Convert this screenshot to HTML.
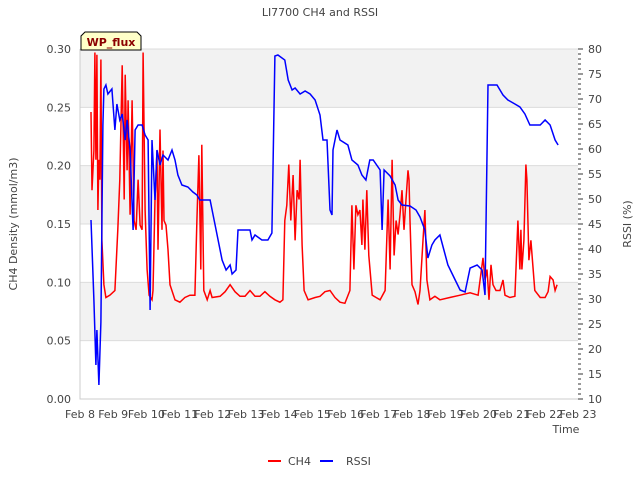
<!DOCTYPE html>
<html><head><meta charset="utf-8"><style>
body{margin:0;background:#fff;font-family:"Liberation Sans","DejaVu Sans",sans-serif}
svg text{font-family:"DejaVu Sans","Liberation Sans",sans-serif;font-size:11px;fill:#444}
</style></head><body>
<svg id="c" width="640" height="480" viewBox="0 0 640 480">
<text x="320" y="16" text-anchor="middle" font-size="13">LI7700 CH4 and RSSI</text>
<g id="bands"></g><g id="grid"></g><g id="axes"></g>
<g id="series"></g>
<g>
<path d="M81,50 L81,36 L85,32 L137,32 L141,36 L141,50 Z" fill="#ffffc8" stroke="#000" stroke-width="1"/>
<text x="111" y="46" text-anchor="middle" font-weight="bold" style="fill:#8b0000;font-size:11px">WP_flux</text>
</g>
<text transform="translate(17,224) rotate(-90)" text-anchor="middle">CH4 Density (mmol/m3)</text>
<text transform="translate(631,224) rotate(-90)" text-anchor="middle">RSSI (%)</text>
<text x="566" y="433" text-anchor="middle">Time</text>
<g><line x1="268" y1="461" x2="281" y2="461" stroke="#f00" stroke-width="2"/><text x="288" y="465">CH4</text></g>
<g><line x1="320" y1="461" x2="333" y2="461" stroke="#00f" stroke-width="2"/><text x="346" y="465">RSSI</text></g>
</svg>
<script>
const xTickLabels=["Feb 8","Feb 9","Feb 10","Feb 11","Feb 12","Feb 13","Feb 14","Feb 15","Feb 16","Feb 17","Feb 18","Feb 19","Feb 20","Feb 21","Feb 22","Feb 23"];
const ch4Ticks=[0,0.05,0.1,0.15,0.2,0.25,0.3];
const rssiTicks=[10,15,20,25,30,35,40,45,50,55,60,65,70,75,80];
const ch4Days=[0.33,0.36,0.42,0.45,0.48,0.51,0.54,0.57,0.60,0.63,0.66,0.72,0.78,0.90,1.05,1.14,1.20,1.27,1.33,1.36,1.42,1.45,1.51,1.57,1.63,1.69,1.75,1.81,1.87,1.90,1.96,2.02,2.08,2.17,2.20,2.26,2.32,2.35,2.41,2.47,2.50,2.53,2.59,2.65,2.71,2.86,3.01,3.16,3.31,3.46,3.52,3.58,3.64,3.67,3.73,3.83,3.92,3.98,4.22,4.37,4.52,4.67,4.82,4.97,5.12,5.27,5.42,5.57,5.72,5.87,6.02,6.11,6.17,6.23,6.29,6.35,6.42,6.48,6.54,6.60,6.63,6.69,6.75,6.87,7.08,7.23,7.38,7.53,7.68,7.83,7.98,8.13,8.19,8.25,8.31,8.37,8.43,8.49,8.52,8.58,8.64,8.70,8.80,8.92,9.04,9.19,9.28,9.34,9.40,9.46,9.52,9.58,9.64,9.70,9.76,9.82,9.88,9.91,9.94,10.00,10.09,10.18,10.24,10.33,10.39,10.45,10.54,10.69,10.84,11.14,11.45,11.75,11.99,12.14,12.20,12.26,12.32,12.38,12.44,12.53,12.65,12.74,12.80,12.95,13.10,13.19,13.25,13.28,13.31,13.37,13.43,13.46,13.52,13.58,13.64,13.70,13.86,14.01,14.10,14.16,14.25,14.31,14.37];
const ch4Values=[0.246,0.179,0.213,0.297,0.205,0.295,0.162,0.205,0.188,0.291,0.136,0.098,0.087,0.089,0.093,0.145,0.188,0.286,0.171,0.278,0.196,0.256,0.158,0.256,0.153,0.145,0.188,0.149,0.145,0.297,0.162,0.111,0.089,0.085,0.093,0.171,0.213,0.128,0.231,0.145,0.213,0.153,0.149,0.128,0.098,0.085,0.083,0.087,0.089,0.089,0.153,0.209,0.111,0.218,0.093,0.085,0.093,0.087,0.088,0.092,0.098,0.092,0.088,0.088,0.093,0.088,0.088,0.092,0.088,0.085,0.083,0.085,0.153,0.166,0.201,0.153,0.192,0.136,0.179,0.171,0.205,0.132,0.093,0.085,0.087,0.088,0.092,0.093,0.087,0.083,0.082,0.093,0.166,0.111,0.166,0.158,0.162,0.132,0.171,0.128,0.179,0.123,0.089,0.087,0.085,0.093,0.171,0.111,0.205,0.123,0.153,0.141,0.158,0.179,0.145,0.171,0.196,0.188,0.153,0.098,0.092,0.081,0.093,0.136,0.162,0.102,0.085,0.088,0.085,0.087,0.089,0.091,0.089,0.121,0.102,0.111,0.085,0.115,0.098,0.093,0.093,0.102,0.089,0.087,0.088,0.153,0.111,0.145,0.111,0.136,0.201,0.188,0.119,0.136,0.115,0.093,0.087,0.087,0.092,0.105,0.102,0.093,0.098];
const rssiDays=[0.33,0.42,0.48,0.51,0.57,0.63,0.69,0.72,0.78,0.84,0.96,1.05,1.11,1.20,1.27,1.36,1.42,1.51,1.60,1.66,1.75,1.87,1.96,2.05,2.11,2.17,2.26,2.32,2.41,2.50,2.65,2.77,2.86,2.95,3.07,3.25,3.40,3.52,3.61,3.92,4.01,4.16,4.28,4.40,4.52,4.58,4.70,4.76,4.88,5.12,5.18,5.27,5.48,5.66,5.78,5.87,5.96,6.17,6.27,6.39,6.48,6.63,6.78,6.93,7.08,7.23,7.32,7.44,7.53,7.59,7.62,7.74,7.83,8.07,8.19,8.37,8.49,8.61,8.73,8.83,9.04,9.10,9.16,9.34,9.49,9.58,9.70,9.94,10.12,10.24,10.39,10.48,10.60,10.69,10.84,10.96,11.08,11.30,11.45,11.60,11.75,11.96,12.11,12.20,12.29,12.56,12.74,12.89,13.10,13.25,13.40,13.55,13.86,14.01,14.16,14.31,14.40];
const rssiValues=[45.8,29.8,16.8,23.8,12.8,25.4,64.8,72,72.8,71,72,63.8,69,65.8,67,61.8,65.8,59.8,43.8,63.8,64.8,64.8,62.8,61.8,27.8,61.8,49.8,59.8,56.8,58.8,57.8,59.8,57.8,54.8,52.8,52.4,51.4,50.8,49.8,49.8,46.8,41.8,37.8,35.8,36.8,35,35.8,43.8,43.8,43.8,41.8,42.8,41.8,41.8,43.2,78.6,78.8,77.8,73.8,71.8,72.2,71,71.6,71,69.8,66.8,61.8,61.8,47.8,46.8,59.8,63.8,61.8,60.8,57.8,56.8,54.8,53.8,57.8,57.8,55.8,43.8,55.8,54.6,52.8,49.8,48.8,48.6,47.8,46.4,43.8,38.2,40.8,41.8,42.8,39.8,36.8,33.8,31.8,31.4,36.2,36.8,35.8,30.8,72.8,72.8,70.8,69.8,69,68.4,67,64.8,64.8,65.8,64.8,61.8,60.8];
const NS="http://www.w3.org/2000/svg";
const L=80,R=578,T=49,B=399;
const xS=d=>L+d*(R-L)/15;
const yC=v=>B-v/0.30*(B-T);
const yR=v=>B-(v-10)/70*(B-T);
function mk(tag,attrs,parent){const e=document.createElementNS(NS,tag);for(const k in attrs)e.setAttribute(k,attrs[k]);document.getElementById(parent).appendChild(e);return e;}
// bands
for(let i=0;i<3;i++){const r=mk('rect',{x:L,y:yC(0.30-i*0.1),width:R-L,height:yC(0.25)-yC(0.30),fill:'#f2f2f2'},'bands');

}
ch4Ticks.forEach(v=>{const g=mk('line',{x1:L,x2:R,y1:yC(v),y2:yC(v),stroke:'#dcdcdc','stroke-width':1},'grid');


const t=mk('text',{x:L-9,y:yC(v)+4,'text-anchor':'end'},'axes');t.textContent=v.toFixed(2);

});
rssiTicks.forEach(v=>{const t=mk('text',{x:R+10,y:yR(v)+4},'axes');t.textContent=v;

});
for(let v=10;v<=80;v++){const tk=mk('line',{x1:R,x2:R+(v%5?3:5),y1:yR(v),y2:yR(v),stroke:'#333','stroke-width':1},'axes');

}
xTickLabels.forEach((s,i)=>{const t=mk('text',{x:xS(i),y:B+19,'text-anchor':'middle'},'axes');t.textContent=s;

});
const ax=mk('path',{d:`M${L},${T}V${B}H${R}`,fill:'none',stroke:'#ccc'},'axes');


const ch=mk('polyline',{points:ch4Days.map((d,i)=>xS(d).toFixed(1)+','+yC(ch4Values[i]).toFixed(1)).join(' '),fill:'none',stroke:'#f00','stroke-width':1.5},'series');


const rs=mk('polyline',{points:rssiDays.map((d,i)=>xS(d).toFixed(1)+','+yR(rssiValues[i]).toFixed(1)).join(' '),fill:'none',stroke:'#00f','stroke-width':1.5},'series');


</script>
</body></html>
